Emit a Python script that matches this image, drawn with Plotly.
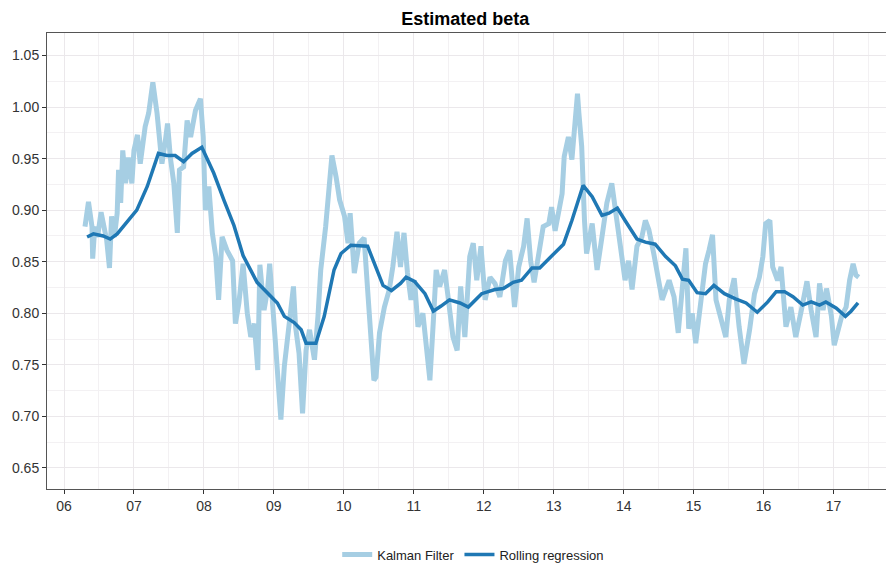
import plotly.graph_objects as go

# Decimal-year positions and values
kalman_t = [2006.30, 2006.35, 2006.40, 2006.41, 2006.44, 2006.48, 2006.53, 2006.57, 2006.61, 2006.65,
            2006.68, 2006.72, 2006.76, 2006.78, 2006.81, 2006.84, 2006.88, 2006.92, 2006.97, 2007.00,
            2007.05, 2007.09, 2007.16, 2007.21, 2007.27, 2007.33, 2007.37, 2007.40, 2007.45, 2007.48,
            2007.52, 2007.57, 2007.62, 2007.65, 2007.71, 2007.76, 2007.81, 2007.88, 2007.95, 2007.99,
            2008.02, 2008.07, 2008.12, 2008.17, 2008.21, 2008.26, 2008.33, 2008.41, 2008.45, 2008.50,
            2008.56, 2008.62, 2008.67, 2008.72, 2008.77, 2008.80, 2008.86, 2008.91, 2008.94, 2008.98,
            2009.03, 2009.06, 2009.10, 2009.15, 2009.20, 2009.24, 2009.28, 2009.31, 2009.36, 2009.41,
            2009.46, 2009.51, 2009.58, 2009.63, 2009.67, 2009.74, 2009.79, 2009.83, 2009.89, 2009.94,
            2010.01, 2010.06, 2010.09, 2010.15, 2010.22, 2010.29, 2010.34, 2010.39, 2010.43, 2010.46,
            2010.51, 2010.58, 2010.65, 2010.70, 2010.76, 2010.81, 2010.86, 2010.91, 2010.96, 2011.01,
            2011.06, 2011.13, 2011.18, 2011.23, 2011.28, 2011.32, 2011.37, 2011.44, 2011.49, 2011.56,
            2011.62, 2011.67, 2011.73, 2011.80, 2011.85, 2011.90, 2011.96, 2012.02, 2012.09, 2012.16,
            2012.23, 2012.31, 2012.37, 2012.44, 2012.50, 2012.57, 2012.62, 2012.67, 2012.72, 2012.78,
            2012.85, 2012.93, 2012.97, 2013.02, 2013.07, 2013.12, 2013.15, 2013.21, 2013.26, 2013.30,
            2013.34, 2013.36, 2013.40, 2013.44, 2013.47, 2013.55, 2013.62, 2013.69, 2013.76, 2013.83,
            2013.88, 2013.93, 2013.98, 2014.02, 2014.07, 2014.12, 2014.19, 2014.26, 2014.31, 2014.36,
            2014.43, 2014.50, 2014.55, 2014.65, 2014.72, 2014.78, 2014.84, 2014.89, 2014.93, 2014.98,
            2015.03, 2015.10, 2015.17, 2015.22, 2015.27, 2015.32, 2015.39, 2015.46, 2015.51, 2015.58,
            2015.65, 2015.72, 2015.80, 2015.87, 2015.94, 2015.99, 2016.03, 2016.09, 2016.13, 2016.20,
            2016.25, 2016.32, 2016.39, 2016.46, 2016.54, 2016.62, 2016.68, 2016.75, 2016.80, 2016.85,
            2016.90, 2016.97, 2017.01, 2017.06, 2017.12, 2017.18, 2017.23, 2017.28, 2017.32, 2017.36]
kalman_beta = [0.884, 0.908, 0.884, 0.853, 0.884, 0.874, 0.898, 0.887, 0.871, 0.844,
               0.894, 0.874, 0.897, 0.939, 0.907, 0.958, 0.926, 0.951, 0.926, 0.958,
               0.973, 0.945, 0.981, 0.994, 1.024, 0.994, 0.971, 0.945, 0.968, 0.984,
               0.951, 0.926, 0.878, 0.939, 0.942, 0.987, 0.971, 0.997, 1.008, 0.971,
               0.900, 0.923, 0.878, 0.855, 0.813, 0.874, 0.861, 0.851, 0.790, 0.810,
               0.848, 0.800, 0.777, 0.790, 0.745, 0.847, 0.803, 0.823, 0.848, 0.803,
               0.764, 0.735, 0.697, 0.749, 0.777, 0.806, 0.826, 0.787, 0.761, 0.703,
               0.764, 0.784, 0.755, 0.797, 0.842, 0.884, 0.916, 0.953, 0.932, 0.910,
               0.894, 0.868, 0.897, 0.839, 0.868, 0.873, 0.823, 0.774, 0.735, 0.738,
               0.781, 0.806, 0.823, 0.845, 0.879, 0.845, 0.878, 0.839, 0.813, 0.832,
               0.787, 0.800, 0.764, 0.735, 0.793, 0.842, 0.826, 0.842, 0.816, 0.777,
               0.764, 0.826, 0.777, 0.855, 0.868, 0.832, 0.865, 0.813, 0.835, 0.829,
               0.816, 0.851, 0.861, 0.806, 0.845, 0.865, 0.892, 0.851, 0.830, 0.858,
               0.884, 0.887, 0.903, 0.880, 0.900, 0.916, 0.952, 0.971, 0.949, 0.981,
               1.013, 0.994, 0.962, 0.890, 0.858, 0.887, 0.842, 0.874, 0.907, 0.926,
               0.903, 0.878, 0.858, 0.832, 0.851, 0.823, 0.865, 0.874, 0.890, 0.881,
               0.858, 0.829, 0.813, 0.832, 0.816, 0.781, 0.826, 0.863, 0.785, 0.800,
               0.771, 0.810, 0.848, 0.861, 0.876, 0.813, 0.795, 0.777, 0.813, 0.834,
               0.787, 0.751, 0.784, 0.819, 0.835, 0.855, 0.887, 0.890, 0.845, 0.832,
               0.845, 0.787, 0.806, 0.777, 0.803, 0.831, 0.803, 0.777, 0.829, 0.803,
               0.824, 0.797, 0.769, 0.781, 0.798, 0.806, 0.832, 0.848, 0.837, 0.835]

rolling_t = [2006.33, 2006.42, 2006.56, 2006.66, 2006.76, 2006.90, 2007.04, 2007.19, 2007.35, 2007.47,
             2007.59, 2007.71, 2007.83, 2007.97, 2008.14, 2008.29, 2008.43, 2008.56, 2008.76, 2009.05,
             2009.15, 2009.29, 2009.39, 2009.46, 2009.60, 2009.72, 2009.86, 2009.96, 2010.10, 2010.34,
             2010.44, 2010.56, 2010.68, 2010.81, 2010.89, 2011.01, 2011.16, 2011.28, 2011.39, 2011.51,
             2011.66, 2011.78, 2011.97, 2012.16, 2012.28, 2012.42, 2012.54, 2012.69, 2012.80, 2012.97,
             2013.14, 2013.26, 2013.42, 2013.55, 2013.69, 2013.79, 2013.91, 2014.02, 2014.19, 2014.31,
             2014.45, 2014.60, 2014.74, 2014.84, 2014.93, 2015.05, 2015.17, 2015.29, 2015.44, 2015.60,
             2015.75, 2015.91, 2016.06, 2016.18, 2016.30, 2016.42, 2016.56, 2016.68, 2016.80, 2016.89,
             2017.04, 2017.17, 2017.25, 2017.35]
rolling_beta = [0.874, 0.877, 0.875, 0.872, 0.877, 0.889, 0.900, 0.923, 0.955, 0.953,
                0.953, 0.947, 0.955, 0.961, 0.936, 0.909, 0.885, 0.856, 0.830, 0.810,
                0.797, 0.791, 0.784, 0.771, 0.771, 0.797, 0.842, 0.858, 0.866, 0.865,
                0.848, 0.827, 0.822, 0.829, 0.835, 0.831, 0.819, 0.802, 0.807, 0.813,
                0.810, 0.806, 0.819, 0.823, 0.824, 0.830, 0.832, 0.844, 0.844, 0.856,
                0.867, 0.890, 0.924, 0.913, 0.895, 0.897, 0.902, 0.890, 0.872, 0.869,
                0.867, 0.855, 0.846, 0.833, 0.832, 0.820, 0.819, 0.827, 0.819, 0.814,
                0.810, 0.801, 0.811, 0.821, 0.821, 0.816, 0.808, 0.811, 0.808, 0.811,
                0.805, 0.797, 0.802, 0.810]

year_ticks = [2006, 2007, 2008, 2009, 2010, 2011, 2012, 2013, 2014, 2015, 2016, 2017]
year_labels = ["06", "07", "08", "09", "10", "11", "12", "13", "14", "15", "16", "17"]
year_minor = [2005.5 + i for i in range(13)]

fig = go.Figure()
fig.add_trace(go.Scatter(x=kalman_t, y=kalman_beta, mode="lines", name="Kalman Filter",
                         line=dict(color="#a6cee3", width=5)))
fig.add_trace(go.Scatter(x=rolling_t, y=rolling_beta, mode="lines", name="Rolling regression",
                         line=dict(color="#1f78b4", width=3.5)))

fig.update_layout(
    width=886, height=563,
    margin=dict(l=47, r=0, t=33, b=74, autoexpand=False),
    paper_bgcolor="white", plot_bgcolor="white",
    font=dict(family="Liberation Sans, Arial, sans-serif", size=14, color="#333333"),
    title=dict(text="<b>Estimated beta</b>", x=0.525, xanchor="center", y=0.966, yanchor="middle",
               font=dict(size=18, color="#000000")),
    showlegend=True,
    legend=dict(orientation="h", x=0.508, xanchor="center", y=-0.111, yanchor="top",
                font=dict(size=13, color="#222222"), bgcolor="rgba(0,0,0,0)"),
)
fig.update_xaxes(
    range=[2005.757, 2017.75], automargin=False,
    tickmode="array", tickvals=year_ticks, ticktext=year_labels,
    showgrid=True, gridcolor="#ebe8eb", gridwidth=1,
    minor=dict(tickmode="array", tickvals=year_minor, showgrid=True, gridcolor="#f3f1f3", ticks=""),
    showline=True, linecolor="#555555", linewidth=1, mirror=True,
    ticks="outside", ticklen=4, tickcolor="#333333",
    tickfont=dict(size=14, color="#333333"), zeroline=False,
)
fig.update_yaxes(
    range=[0.6296, 1.0718], automargin=False,
    tickmode="linear", tick0=0.65, dtick=0.05, tickformat=".2f",
    showgrid=True, gridcolor="#ebe8eb", gridwidth=1,
    minor=dict(tick0=0.625, dtick=0.05, showgrid=True, gridcolor="#f3f1f3", ticks=""),
    showline=True, linecolor="#555555", linewidth=1, mirror=True,
    ticks="outside", ticklen=4, tickcolor="#333333",
    tickfont=dict(size=14, color="#333333"), zeroline=False,
)

fig.write_html("out.html", config={"displayModeBar": False},
               post_script="document.body.style.margin='0px';")
